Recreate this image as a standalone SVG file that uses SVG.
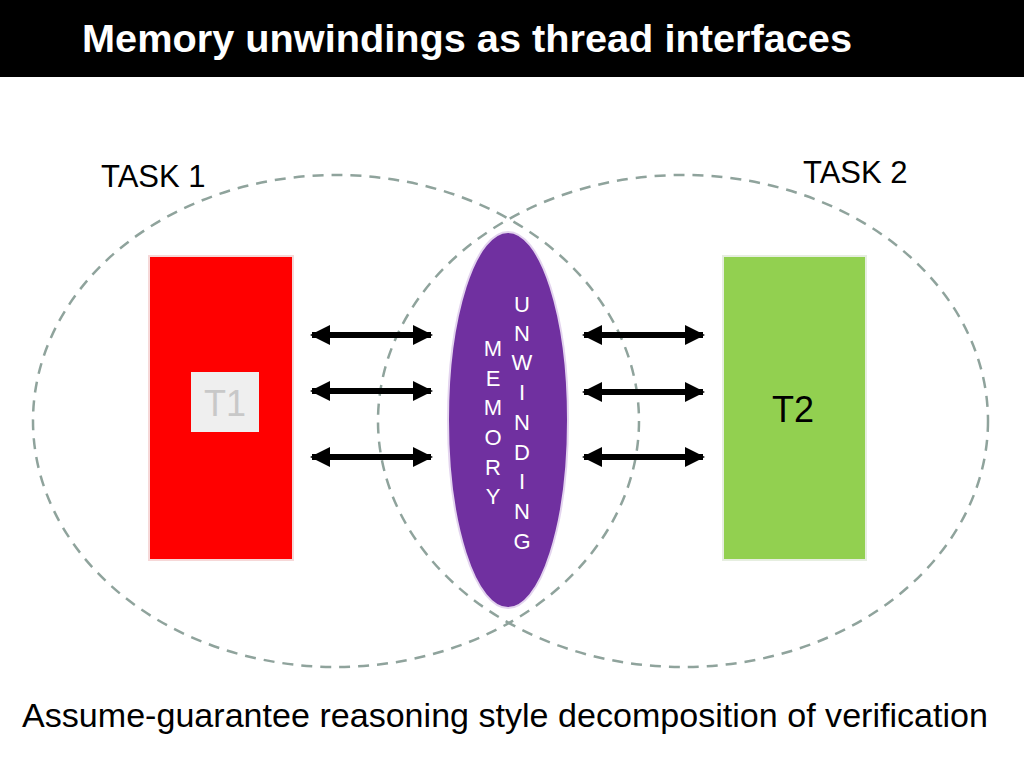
<svg xmlns="http://www.w3.org/2000/svg" width="1024" height="768" viewBox="0 0 1024 768">
<defs>
<style>
.t{font-family:"Liberation Sans",Arial,sans-serif}
.dash{fill:none;stroke:#8fa39c;stroke-width:2.5;stroke-dasharray:11 8}
.arr{stroke:#000;stroke-width:6;marker-start:url(#ah);marker-end:url(#ah)}
.lt{font-family:"Liberation Sans",Arial,sans-serif;font-size:22px;fill:#fff;text-anchor:middle}
</style>
<marker id="ah" markerUnits="userSpaceOnUse" markerWidth="20" markerHeight="22" refX="18" refY="11" orient="auto-start-reverse">
<path d="M0,1 L20,11 L0,21 Z" fill="#000"/>
</marker>
</defs>
<rect width="1024" height="768" fill="#fff"/>
<g id="header">
<rect x="0" y="0" width="1024" height="77" fill="#000"/>
<text class="t" x="82" y="52" font-size="39" font-weight="bold" fill="#fff" textLength="770" lengthAdjust="spacingAndGlyphs">Memory unwindings as thread interfaces</text>
</g>
<g id="task1">
<ellipse class="dash" cx="336" cy="421" rx="303" ry="246"/>
<text class="t" x="101" y="187" font-size="31" fill="#000">TASK 1</text>
</g>
<g id="task2">
<ellipse class="dash" cx="683" cy="421" rx="305" ry="246"/>
<text class="t" x="803" y="183" font-size="31" fill="#000">TASK 2</text>
</g>
<g id="t1">
<rect x="149" y="256" width="144" height="304" fill="#ff0000" stroke="#f6d8d8" stroke-width="2"/>
<rect x="191" y="372" width="68" height="60" fill="#efefef"/>
<text class="t" x="225" y="416" font-size="36" fill="#c8c8c8" text-anchor="middle">T1</text>
</g>
<g id="t2">
<rect x="723" y="256" width="143" height="304" fill="#92d050" stroke="#e6eee0" stroke-width="2"/>
<text class="t" x="793" y="422" font-size="36" fill="#000" text-anchor="middle">T2</text>
</g>
<g id="memory">
<ellipse cx="508" cy="420" rx="60" ry="188" fill="#7030a0" stroke="#e3d4ee" stroke-width="2"/>
<text class="lt" x="493" y="356">M</text>
<text class="lt" x="493" y="386">E</text>
<text class="lt" x="493" y="415">M</text>
<text class="lt" x="493" y="445">O</text>
<text class="lt" x="493" y="475">R</text>
<text class="lt" x="493" y="504">Y</text>
<text class="lt" x="522" y="312">U</text>
<text class="lt" x="522" y="341">N</text>
<text class="lt" x="522" y="370">W</text>
<text class="lt" x="522" y="400">I</text>
<text class="lt" x="522" y="430">N</text>
<text class="lt" x="522" y="460">D</text>
<text class="lt" x="522" y="489">I</text>
<text class="lt" x="522" y="519">N</text>
<text class="lt" x="522" y="549">G</text>
</g>
<g id="connectors">
<line class="arr" x1="312" y1="335" x2="431" y2="335"/>
<line class="arr" x1="312" y1="391" x2="431" y2="391"/>
<line class="arr" x1="312" y1="457" x2="431" y2="457"/>
<line class="arr" x1="584" y1="335" x2="703" y2="335"/>
<line class="arr" x1="584" y1="392" x2="703" y2="392"/>
<line class="arr" x1="584" y1="457" x2="703" y2="457"/>
</g>
<g id="caption">
<text class="t" x="22" y="727" font-size="33" fill="#000" textLength="966" lengthAdjust="spacingAndGlyphs">Assume-guarantee reasoning style decomposition of verification</text>
</g>
</svg>
